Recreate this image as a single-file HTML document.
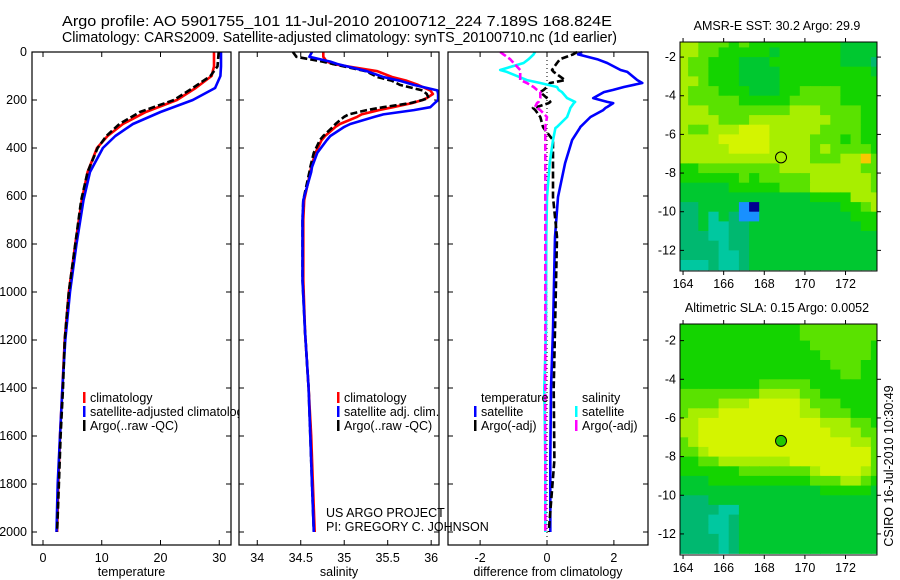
<!DOCTYPE html>
<html><head><meta charset="utf-8">
<style>
html,body{margin:0;padding:0;background:#fff;}
svg{display:block;font-family:"Liberation Sans",sans-serif;}
</style></head>
<body>
<svg id="fig" width="900" height="580" viewBox="0 0 900 580" xmlns="http://www.w3.org/2000/svg">
<text x="62" y="26" font-size="15" textLength="550" lengthAdjust="spacingAndGlyphs">Argo profile: AO 5901755_101 11-Jul-2010 20100712_224 7.189S 168.824E</text>
<text x="62" y="42" font-size="15" textLength="555" lengthAdjust="spacingAndGlyphs">Climatology: CARS2009. Satellite-adjusted climatology: synTS_20100710.nc (1d earlier)</text>
<g id="layer"></g>
</svg>
<script>
// ---------- profile data ----------
const depthT = [0,60,100,150,200,250,300,350,400,500,617,800,1000,1200,1400,1600,1800,2000];
const tempClim = [29.1,29.1,28.7,26.0,22.8,17.5,13.6,11.0,9.2,7.6,6.6,5.5,4.4,3.7,3.3,2.9,2.6,2.4];
const tempSat  = [30.3,30.3,30.2,29.3,25.5,20.0,15.3,12.3,10.2,8.0,6.9,5.7,4.6,3.8,3.3,2.9,2.5,2.3];
const tempArgo = [29.9,29.7,28.5,25.5,22.3,16.5,13.0,10.8,9.3,7.6,6.5,5.5,4.4,3.7,3.4,3.0,2.7,2.4];

const depthS = [0,20,40,50,80,104,120,137,160,175,192,200,213,230,242,260,270,300,312,350,367,420,479,500,617,700,950,1170,1400,1600,1800,2000];
const salClim = [34.76,34.76,34.80,34.87,35.38,35.55,35.72,35.85,35.99,36.02,35.95,35.90,35.78,35.56,35.40,35.20,35.15,34.95,34.90,34.78,34.74,34.67,34.62,34.61,34.54,34.53,34.53,34.55,34.59,34.62,34.64,34.66];
const salSat  = [34.63,34.60,34.84,34.92,35.26,35.45,35.64,35.80,36.07,36.08,36.08,36.08,36.04,35.99,35.80,35.45,35.35,35.07,35.00,34.84,34.80,34.69,34.63,34.62,34.53,34.52,34.52,34.55,34.59,34.61,34.63,34.65];
const salArgo = [34.41,34.45,34.75,34.87,35.25,35.38,35.55,35.64,35.90,35.95,35.97,35.90,35.76,35.45,35.26,35.05,35.00,34.90,34.87,34.76,34.72,34.65,34.61,34.60,34.53,34.52,34.52,34.55,34.59,34.61,34.63,34.65];

const depthD = [0,10,30,46,75,83,117,129,146,158,167,192,208,213,229,233,242,271,312,317,367,463,604,771,1158,1400,1700,2000];
const dTempSat  = [1.05,0.93,1.5,1.8,2.2,2.4,2.7,2.85,2.3,1.98,1.7,1.38,1.8,1.98,1.8,1.75,1.68,1.3,1.0,0.98,0.75,0.54,0.33,0.24,0.18,0.12,0.1,0.1];
const dTempArgo = [0.9,0.78,0.39,0.3,0.15,0.2,0.54,0.09,0.0,-0.1,-0.2,0.0,0.1,0.05,-0.3,-0.42,-0.35,-0.2,-0.12,-0.1,0.18,0.18,0.18,0.3,0.24,0.2,0.22,0.05];
const dSalSat   = [-0.36,-0.4,-0.55,-0.7,-1.4,-1.2,-0.6,-0.2,0.3,0.35,0.45,0.6,0.84,0.8,0.72,0.7,0.68,0.6,0.3,0.25,0.18,0.08,0.0,-0.02,-0.03,-0.08,-0.05,-0.05];
const dSalArgo  = [-1.4,-1.3,-1.1,-1.0,-0.8,-0.8,-0.8,-0.6,-0.4,-0.3,-0.2,-0.2,-0.25,-0.3,-0.36,-0.3,-0.2,0.0,-0.05,-0.05,-0.05,-0.05,-0.05,-0.05,-0.05,-0.05,-0.05,-0.05];

const depthTicks = [0,200,400,600,800,1000,1200,1400,1600,1800,2000];
const tempTicks = [0,10,20,30];
const salTicks = [34,34.5,35,35.5,36];
const diffTicks = [-2,0,2];

// ---------- map data ----------
const lonTicks = [164,166,168,170,172];
const latTicks = [-2,-4,-6,-8,-10,-12];
const sstGrid = [
"55444343333333332222","55443333323333332222","54433322233333332221","54433322223333333332",
"55433322223333333333","54443332223344443333","54444433333444443333","55544444444555444433",
"55554445555555544433","54455566655555444433","55556666655554443433","55555666655554544443",
"55555555555554445574","33444444445555555544","33333343444445555554","22222333334445555554",
"22222222222223333555","11222289222222223345","11202188222222222333","11200112222222222233",
"11100112222222222222","11110112222222222222","11110012222222222222","00010012222222222222"];
const slaGrid = [
"33333333333344444444","33333333333344444444","33333333333334444443","33333333333333444443",
"33333333333333344433","33333333333333334433","33333333444443333333","44444444555544333333",
"44445556666654443333","45556666666655444333","55666666666666555443","55666666666666655544",
"45666666666666666554","44566666666666666664","33445555555666666664","33333344444445666654",
"22233333333334445543","22222222222222333332","11122222222222222222","11110022222222222222",
"11100122222222222222","11100122222222222222","11110122222222222222","11110122222222222222"];
const floatLon = 168.824, floatLat = -7.189;

const NS = "http://www.w3.org/2000/svg";
const layer = document.getElementById('layer');
function el(tag, attrs, parent){
  const e = document.createElementNS(NS, tag);
  for (const k in attrs) e.setAttribute(k, attrs[k]);
  (parent||layer).appendChild(e);
  return e;
}
function txt(x,y,s,size,anchor,parent){
  const t = el('text',{x:x,y:y,'font-size':size,'text-anchor':anchor||'start'},parent);
  t.textContent = s; return t;
}

const Y0 = 52, PXM = 0.24, YB = 545;
const yD = d => Y0 + PXM*d;

function panel(name, x0, x1, vmin, vmax, ticks, xlabel, showY){
  const g = el('g',{});
  
  
  el('rect',{x:x0,y:Y0,width:x1-x0,height:YB-Y0,fill:'#fff',stroke:'none'},g);
  const sx = v => x0 + (v-vmin)/(vmax-vmin)*(x1-x0);
  depthTicks.forEach(d=>{
    const y = yD(d);
    el('line',{x1:x0,y1:y,x2:x0+5,y2:y,stroke:'#000'},g);
    el('line',{x1:x1,y1:y,x2:x1-5,y2:y,stroke:'#000'},g);
    if (showY){
      const t = txt(x0-5,y+4,String(d),12.5,'end',g);
      
      
    }
  });
  ticks.forEach(v=>{
    const x = sx(v);
    el('line',{x1:x,y1:Y0,x2:x,y2:Y0+5,stroke:'#000'},g);
    el('line',{x1:x,y1:YB,x2:x,y2:YB-5,stroke:'#000'},g);
    const t = txt(x,562,String(v),12.5,'middle',g);
    
    
  });
  const xl = txt((x0+x1)/2,576,xlabel,12.5,'middle',g);
  
  
  return {g, sx};
}
function line(p, depths, vals, color, dash, name, w){
  const pts = depths.map((d,i)=>p.sx(vals[i]).toFixed(1)+','+yD(d).toFixed(1)).join(' ');
  const l = el('polyline',{points:pts,fill:'none',stroke:color,'stroke-width':w||2.6,'stroke-linejoin':'round'},p.g);
  if (dash) l.setAttribute('stroke-dasharray',dash);
  
  
}
function frame(p,x0,x1){
  el('rect',{x:x0,y:Y0,width:x1-x0,height:YB-Y0,fill:'none',stroke:'#000','stroke-width':1.2},p.g);
}
function legendEntry(g,x,y,color,label){
  const e = el('g',{},g);
  
  
  if (color) el('rect',{x:x,y:y-10,width:2.5,height:11,fill:color},e);
  txt(x+7,y,label,12.5,'start',e);
}

const p1 = panel('temperature-panel',32,231,-1.87,32.0,tempTicks,'temperature',true);
line(p1,depthT,tempClim,'#f00',null,'temperature-climatology-line');
line(p1,depthT,tempSat,'#00f',null,'temperature-satellite-line');
line(p1,depthT,tempArgo,'#000','7 3','temperature-argo-line');
frame(p1,32,231);
legendEntry(p1.g,83,402,'#f00','climatology');
legendEntry(p1.g,83,416,'#00f','satellite-adjusted climatology');
legendEntry(p1.g,83,430,'#000','Argo(..raw -QC)');

const p2 = panel('salinity-panel',239,439,33.79,36.09,salTicks,'salinity',false);
line(p2,depthS,salClim,'#f00',null,'salinity-climatology-line');
line(p2,depthS,salArgo,'#000','7 3','salinity-argo-line');
line(p2,depthS,salSat,'#00f',null,'salinity-satellite-line');
frame(p2,239,439);
legendEntry(p2.g,337,402,'#f00','climatology');
legendEntry(p2.g,337,416,'#00f','satellite adj. clim.');
legendEntry(p2.g,337,430,'#000','Argo(..raw -QC)');

const p3 = panel('difference-panel',448,648,-2.96,3.02,diffTicks,'difference from climatology',false);
el('line',{x1:p3.sx(0),y1:Y0,x2:p3.sx(0),y2:YB,stroke:'#000','stroke-dasharray':'1 3'},p3.g);
line(p3,depthD,dTempSat,'#00f',null,'temp-satellite-diff-line');
line(p3,depthD,dTempArgo,'#000','7 3','temp-argo-diff-line');
line(p3,depthD,dSalSat,'#0ff',null,'salinity-satellite-diff-line');
line(p3,depthD,dSalArgo,'#f0f','7 3','salinity-argo-diff-line');
frame(p3,448,648);
legendEntry(p3.g,474,402,null,'temperature');
legendEntry(p3.g,474,416,'#00f','satellite');
legendEntry(p3.g,474,430,'#000','Argo(-adj)');
legendEntry(p3.g,575,402,null,'salinity');
legendEntry(p3.g,575,416,'#0ff','satellite');
legendEntry(p3.g,575,430,'#f0f','Argo(-adj)');

const cr = el('g',{});


txt(326,517,'US ARGO PROJECT',12.5,'start',cr);
txt(326,531,'PI: GREGORY C. JOHNSON',12.5,'start',cr);

// ---------- maps ----------
const palette = {'0':'#00c8a0','1':'#00b870','2':'#00c830','3':'#14d400','4':'#5ae200','5':'#a8ee00','6':'#d4f400','7':'#f8c800','8':'#1890ff','9':'#000090'};
function mapPanel(name, grid, top, bottom, title, filled){
  const g = el('g',{});
  
  
  const x0 = 680, x1 = 877;
  const lonMin = 163.85, lonMax = 173.55;
  const pxDeg = 19.33;
  const sx = lon => x0 + (lon-lonMin)/(lonMax-lonMin)*(x1-x0);
  const sy = lat => top.y + (top.lat-lat)*pxDeg;
  const clip = el('clipPath',{id:name+'-clip'},g);
  el('rect',{x:x0,y:top.y,width:x1-x0,height:bottom-top.y},clip);
  const cells = el('g',{'clip-path':'url(#'+name+'-clip)'},g);
  grid.forEach((row,r)=>{
    for (let c=0;c<row.length;c++){
      const lon = 163.75 + c*0.5, lat = -1.0 - r*0.5;
      const cx = sx(lon), cy = sy(lat);
      const cell = el('rect',{x:cx.toFixed(1),y:cy.toFixed(1),width:(sx(lon+0.5)-cx+0.6).toFixed(1),height:(pxDeg*0.5+0.6).toFixed(1),fill:palette[row[c]]},cells);
      
      
    }
  });
  el('rect',{x:x0,y:top.y,width:x1-x0,height:bottom-top.y,fill:'none',stroke:'#000','stroke-width':1},g);
  latTicks.forEach(l=>{
    const y = sy(l);
    el('line',{x1:x0,y1:y,x2:x0+4,y2:y,stroke:'#000'},g);
    el('line',{x1:x1,y1:y,x2:x1+4,y2:y,stroke:'#000'},g);
    const t = txt(x0-4,y+4,String(l),12.5,'end',g);
    
    
  });
  lonTicks.forEach(l=>{
    const x = sx(l);
    el('line',{x1:x,y1:top.y,x2:x,y2:top.y-4,stroke:'#000'},g);
    el('line',{x1:x,y1:bottom,x2:x,y2:bottom+4,stroke:'#000'},g);
    const t = txt(x,bottom+17,String(l),12.5,'middle',g);
    
    
  });
  const tt = txt(777,top.y-12,title,12.5,'middle',g);
  
  
  const m = el('circle',{cx:sx(floatLon),cy:sy(floatLat),r:5.5,fill:filled?'#22c800':'none',stroke:'#000','stroke-width':1},g);
  
  
}
mapPanel('sst-map', sstGrid, {y:42,lat:-1.22}, 271, 'AMSR-E SST: 30.2 Argo: 29.9', false);
mapPanel('sla-map', slaGrid, {y:324,lat:-1.14}, 555, 'Altimetric SLA: 0.15 Argo: 0.0052', true);

const ts = txt(0,0,'CSIRO 16-Jul-2010 10:30:49',12.5,'middle');
ts.setAttribute('transform','translate(893,466) rotate(-90)');


</script>
</body></html>
